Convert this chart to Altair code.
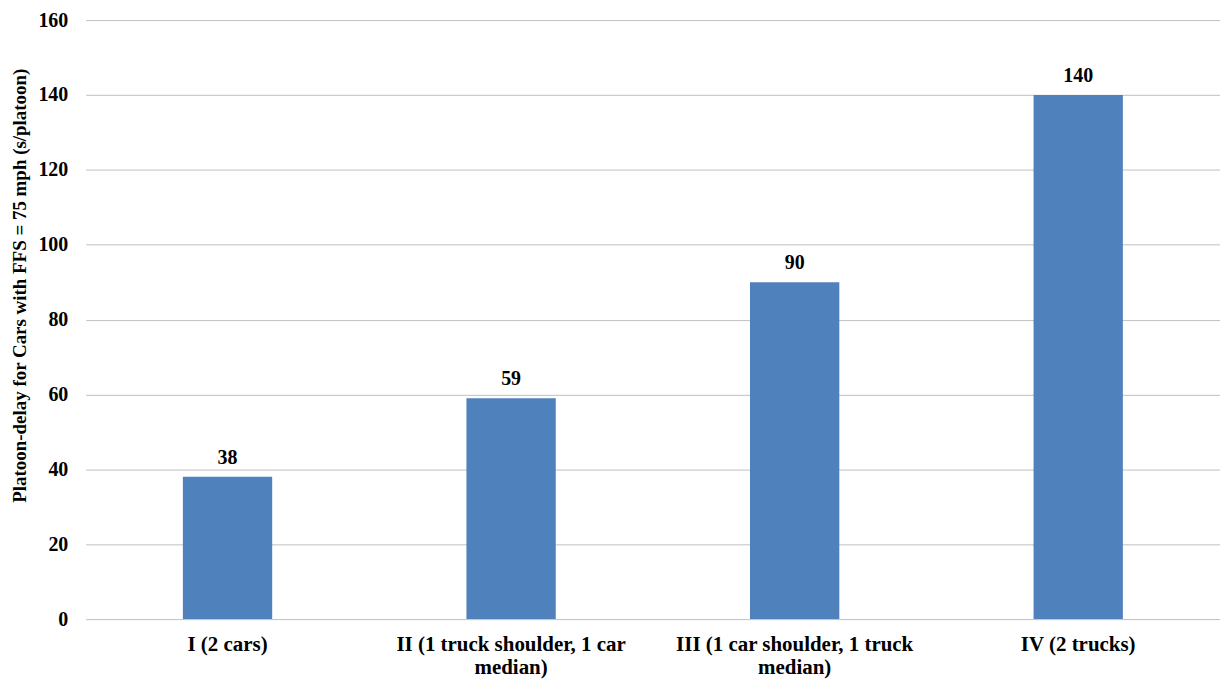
import altair as alt
import pandas as pd
import json

categories = ["I (2 cars)", "II (1 truck shoulder, 1 car median)",
              "III (1 car shoulder, 1 truck median)", "IV (2 trucks)"]
wrapped_labels = [["I (2 cars)"], ["II (1 truck shoulder, 1 car", "median)"],
                  ["III (1 car shoulder, 1 truck", "median)"], ["IV (2 trucks)"]]
values = [38, 59, 90, 140]

df = pd.DataFrame({"cat": categories, "val": values})
label_map = json.dumps(dict(zip(categories, wrapped_labels)))
label_expr = label_map + "[datum.label]"

FONT = "Liberation Serif"

base = alt.Chart(df).encode(
    x=alt.X("cat:N", sort=categories, title=None,
            scale=alt.Scale(paddingInner=0.685, paddingOuter=0.3425),
            axis=alt.Axis(labelAngle=0, labelExpr=label_expr, labelFont=FONT,
                          labelFontSize=21, labelFontWeight="bold", labelColor="#000000",
                          ticks=False, domain=False, labelPadding=15,
                          labelLineHeight=23, labelLimit=400)),
    y=alt.Y("val:Q", title="Platoon-delay for Cars with FFS = 75 mph (s/platoon)",
            scale=alt.Scale(domain=[0, 160]),
            axis=alt.Axis(values=list(range(0, 161, 20)), labelFont=FONT, labelFontSize=20,
                          labelFontWeight="bold", labelColor="#000000", ticks=False,
                          domain=False, labelPadding=18, titleFont=FONT, titleFontSize=19,
                          titleFontWeight="bold", titleColor="#000000", titlePadding=8,
                          titleY=266,
                          gridColor="#c0c0c0", gridWidth=1)),
)

bars = base.mark_bar(color="#4F81BD")
text = base.mark_text(dy=-19, font=FONT, fontSize=20, fontWeight="bold",
                      color="#000000").encode(text="val:Q")

chart = (bars + text).properties(
    width=1138, height=601,
    autosize=alt.AutoSizeParams(type="none"),
    padding={"left": 78, "top": 11, "right": 0, "bottom": 62},
).configure_view(stroke=None)

chart.save("out.html", embed_options={"renderer": "svg", "actions": False})
